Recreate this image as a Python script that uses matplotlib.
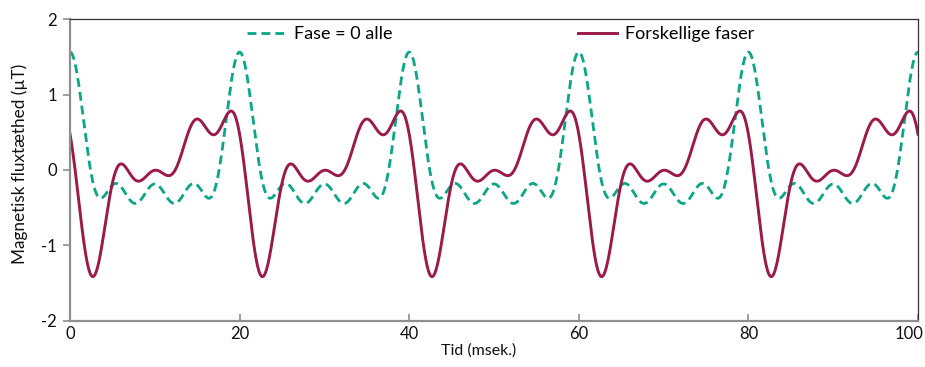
import numpy as np
import matplotlib
matplotlib.use("Agg")
import matplotlib.pyplot as plt
from matplotlib.transforms import ScaledTranslation

# Harmonics of a 50 Hz field: amplitude (µT) and phase (degrees) of each one
fundamental_hz = 50.0
harmonic_order = [1, 2, 3, 4]
amplitude_ut = [0.575, 0.445, 0.300, 0.245]
phase_zero_deg = [0, 0, 0, 0]
phase_mixed_deg = [92, 91, 30, 5]

series_labels = ["Fase = 0 alle", "Forskellige faser"]
x_ticks = [0, 20, 40, 60, 80, 100]
y_ticks = [-2, -1, 0, 1, 2]

GREEN = "#0aa687"
CRIMSON = "#9c1a4a"

plt.rcParams["font.family"] = ["Lato", "DejaVu Sans"]

t_ms = np.linspace(0, 100, 2001)


def field(phases_deg):
    total = np.zeros_like(t_ms)
    for k, a, p in zip(harmonic_order, amplitude_ut, phases_deg):
        total += a * np.cos(2 * np.pi * k * fundamental_hz * t_ms / 1000.0 + np.radians(p))
    return total


fig = plt.figure(figsize=(9.25, 3.67), dpi=100)
ax = fig.add_axes([70 / 925, 1 - 320.7 / 367, 848 / 925, 301.4 / 367])

ax.plot(t_ms, field(phase_zero_deg), color=GREEN, lw=2.0, dashes=(3.2, 1.8),
        label=series_labels[0])
ax.plot(t_ms, field(phase_mixed_deg), color=CRIMSON, lw=2.1,
        label=series_labels[1])

ax.set_xlim(0, 100)
ax.set_ylim(-2, 2)
ax.set_xticks(x_ticks)
ax.set_yticks(y_ticks)
ax.set_xticklabels([str(v) for v in x_ticks])
ax.set_yticklabels([str(v) for v in y_ticks])

for side in ("left", "bottom"):
    ax.spines[side].set_color("#8f8f8f")
    ax.spines[side].set_linewidth(1.6)
for side in ("top", "right"):
    ax.spines[side].set_color("#333333")
    ax.spines[side].set_linewidth(0.9)

ax.tick_params(axis="x", direction="in", length=5, width=1.2, color="#8f8f8f",
               labelsize=12, pad=4, labelcolor="#111111")
ax.tick_params(axis="y", direction="out", length=5, width=1.2, color="#8f8f8f",
               labelsize=12, pad=4.5, labelcolor="#111111")

# keep the last x tick label inside the figure edge
last = ax.get_xticklabels()[-1]
last.set_horizontalalignment("right")
last.set_transform(last.get_transform() + ScaledTranslation(5 / 100, 0, fig.dpi_scale_trans))

ax.set_xlabel("Tid (msek.)", fontsize=11.5, color="#111111")
ax.xaxis.set_label_coords(0.482, -0.075)
ax.set_ylabel("Magnetisk fluxtæthed (µT)", fontsize=12.3, color="#111111")
ax.yaxis.set_label_coords(-0.050, 0.52)

ax.legend(loc="center", bbox_to_anchor=(0.508, 0.951), ncol=2, frameon=False,
          fontsize=13, handlelength=2.15, handletextpad=0.45, columnspacing=10.3,
          borderaxespad=0, borderpad=0)

fig.savefig("out.png", dpi=100)
